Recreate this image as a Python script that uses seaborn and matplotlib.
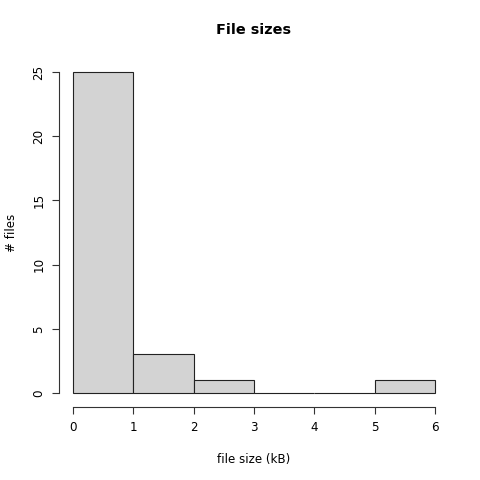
import matplotlib
matplotlib.use("Agg")
import matplotlib.pyplot as plt
import seaborn as sns
import numpy as np

# Histogram data (R-style hist of file sizes)
bin_edges = [0, 1, 2, 3, 4, 5, 6]
bin_counts = [25, 3, 1, 0, 0, 1]
x_ticks = [0, 1, 2, 3, 4, 5, 6]
y_ticks = [0, 5, 10, 15, 20, 25]

sns.set_theme(style="white")
plt.rcParams["font.family"] = ["DejaVu Sans"]
plt.rcParams["text.color"] = "black"
plt.rcParams["axes.labelcolor"] = "black"
plt.rcParams["xtick.color"] = "black"
plt.rcParams["ytick.color"] = "black"

centers = [(a + b) / 2 for a, b in zip(bin_edges[:-1], bin_edges[1:])]

fig = plt.figure(figsize=(4.8, 4.8), dpi=100)
ax = fig.add_axes([73 / 480, 87 / 480, 362 / 480, 321 / 480])

sns.histplot(
    x=centers,
    weights=bin_counts,
    bins=bin_edges,
    color="#d3d3d3",
    edgecolor="#222222",
    linewidth=0.8,
    alpha=1,
    ax=ax,
)
for p in ax.patches:
    p.set_clip_on(False)

ax.set_xlim(0, 6)
ax.set_ylim(0, 25)
ax.margins(0)

for side in ["top", "right"]:
    ax.spines[side].set_visible(False)
for side in ["left", "bottom"]:
    ax.spines[side].set_position(("outward", 10))
    ax.spines[side].set_color("#333333")
    ax.spines[side].set_linewidth(0.8)
ax.spines["left"].set_bounds(0, 25)
ax.spines["bottom"].set_bounds(0, 6)

ax.set_xticks(x_ticks)
ax.set_yticks(y_ticks)
ax.set_yticklabels([str(v) for v in y_ticks], rotation=90, va="center")
ax.tick_params(axis="both", which="both", length=5, width=0.8, color="#333333",
               labelsize=8.6, labelcolor="black", pad=5, direction="out",
               bottom=True, left=True)

ax.set_xlabel("file size (kB)", fontsize=8.6, labelpad=14, color="black")
ax.set_ylabel("# files", fontsize=8.6, labelpad=10, color="black")
fig.text(254 / 480, 1 - 30 / 480, "File sizes", ha="center", va="center",
         fontsize=10.4, fontweight="bold", color="black")

fig.savefig("out.png", dpi=100)
